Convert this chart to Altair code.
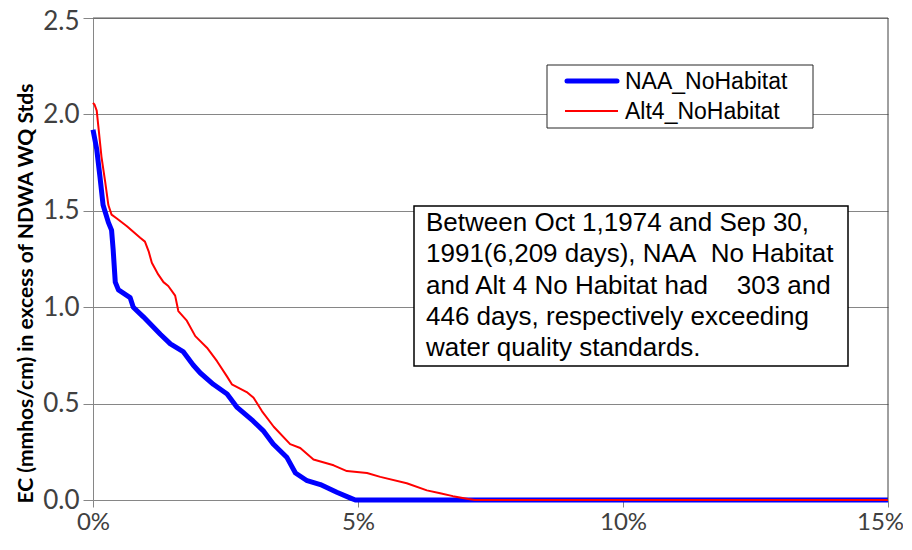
import altair as alt
import pandas as pd

# ---- data ----
series_names = ["NAA_NoHabitat", "Alt4_NoHabitat"]

naa_x = [0.0, 0.07, 0.13, 0.19, 0.29, 0.35, 0.38, 0.42, 0.48, 0.70, 0.76, 0.95, 1.27, 1.46, 1.70,
         1.89, 2.02, 2.27, 2.53, 2.72, 3.02, 3.21, 3.40, 3.66, 3.82, 4.04, 4.29, 4.60, 4.86, 4.95, 15.0]
naa_y = [1.92, 1.82, 1.68, 1.53, 1.44, 1.40, 1.30, 1.13, 1.09, 1.05, 1.00, 0.95, 0.86, 0.81, 0.77,
         0.70, 0.66, 0.60, 0.55, 0.48, 0.41, 0.36, 0.29, 0.22, 0.14, 0.10, 0.08, 0.04, 0.01, 0.0, 0.0]

alt4_x = [0.0, 0.03, 0.07, 0.10, 0.16, 0.23, 0.29, 0.35, 0.45, 0.64, 0.89, 0.98, 1.05, 1.11, 1.23,
          1.33, 1.42, 1.55, 1.61, 1.77, 1.93, 2.15, 2.34, 2.53, 2.62, 2.90, 3.03, 3.19, 3.41, 3.72,
          3.91, 4.16, 4.54, 4.79, 5.17, 5.42, 5.92, 6.30, 6.55, 6.79, 7.08, 7.20, 15.0]
alt4_y = [2.06, 2.05, 2.02, 1.94, 1.78, 1.65, 1.53, 1.48, 1.46, 1.42, 1.36, 1.34, 1.29, 1.23, 1.17,
          1.13, 1.11, 1.06, 0.98, 0.93, 0.85, 0.79, 0.72, 0.64, 0.60, 0.56, 0.53, 0.46, 0.38, 0.29,
          0.27, 0.21, 0.18, 0.15, 0.14, 0.12, 0.087, 0.05, 0.035, 0.02, 0.005, 0.0, 0.0]

x_ticks = [0, 5, 10, 15]
y_ticks = [0.0, 0.5, 1.0, 1.5, 2.0, 2.5]

NB = "\u00a0"
note_lines = [
    "Between Oct 1,1974 and Sep 30,",
    "1991(6,209" + NB + "days), NAA" + NB + NB + "No Habitat",
    "and Alt 4 No Habitat had" + NB + NB + NB + NB + "303 and",
    "446 days, respectively exceeding",
    "water quality standards.",
]

# ---- build table ----
rows = []
for i, (x, y) in enumerate(zip(naa_x, naa_y)):
    rows.append({"series": series_names[0], "order": i, "pct": x, "ec": y})
for i, (x, y) in enumerate(zip(alt4_x, alt4_y)):
    rows.append({"series": series_names[1], "order": i, "pct": x, "ec": y})
df = pd.DataFrame(rows)

# plot area: left 93, top 18, right 888, bottom 500 (page pixels)
OX, OY = 93, 18
W, H = 795, 482
GRID = "#868686"

def rx(px):
    return px - OX

def ry(py):
    return py - OY

x_enc = alt.X("pct:Q", scale=alt.Scale(domain=[0, 15], nice=False, zero=True),
              axis=alt.Axis(values=x_ticks, labelExpr="datum.value + '%'", grid=False,
                            tickSize=7, tickColor=GRID, domainColor=GRID,
                            labelFont="Lato", labelFontSize=24, labelColor="#404040",
                            labelPadding=3, labelFlush=False, labelOverlap=False,
                            labelOffset={"condition": {"test": "datum.value == 15", "value": -8},
                                         "value": 0},
                            title=None))
y_enc = alt.Y("ec:Q", scale=alt.Scale(domain=[0, 2.5], nice=False),
              axis=alt.Axis(values=y_ticks, format=".1f", grid=True, gridColor=GRID,
                            tickSize=10, tickColor=GRID, domainColor=GRID,
                            labelFont="Lato", labelFontSize=26, labelColor="#404040",
                            labelPadding=4,
                            labelOffset={"condition": {"test": "datum.value == 2.5", "value": 3},
                                         "value": 0},
                            title="EC (mmhos/cm) in excess of NDWA WQ Stds",
                            titleFont="Lato", titleFontWeight="bold", titleFontSize=21,
                            titleColor="#000000", titleAngle=270, titleX=rx(26), titleY=ry(293),
                            titleAlign="center", titleBaseline="middle"))

base = alt.Chart(df)

blue = base.transform_filter(alt.datum.series == series_names[0]).mark_line(
    color="#0000FF", strokeWidth=5, strokeJoin="round"
).encode(x=x_enc, y=y_enc, order="order:Q")

red = base.transform_filter(alt.datum.series == series_names[1]).mark_line(
    color="#FF0000", strokeWidth=2, strokeJoin="round"
).encode(x="pct:Q", y="ec:Q", order="order:Q")

one = alt.Data(values=[{"k": 1}])

top_edge = alt.Chart(one).mark_rule(color="#595959", strokeWidth=1).encode(
    x=alt.value(0), x2=alt.value(W), y=alt.value(0))
right_edge = alt.Chart(one).mark_rule(color="#404040", strokeWidth=1).encode(
    x=alt.value(W), y=alt.value(0), y2=alt.value(H))

# legend box
leg_box = alt.Chart(one).mark_rect(fill="white", stroke="#262626", strokeWidth=1).encode(
    x=alt.value(rx(547)), x2=alt.value(rx(813)), y=alt.value(ry(65)), y2=alt.value(ry(128)))
leg_blue = alt.Chart(one).mark_rule(color="#0000FF", strokeWidth=5, strokeCap="round").encode(
    x=alt.value(rx(567)), x2=alt.value(rx(617)), y=alt.value(ry(81)))
leg_red = alt.Chart(one).mark_rule(color="#FF0000", strokeWidth=2).encode(
    x=alt.value(rx(565)), x2=alt.value(rx(618)), y=alt.value(ry(111)))
leg_t1 = alt.Chart(one).mark_text(align="left", baseline="middle", font="Liberation Sans",
                                  fontSize=23, color="#000000").encode(
    x=alt.value(rx(625)), y=alt.value(ry(82)), text=alt.value(series_names[0]))
leg_t2 = alt.Chart(one).mark_text(align="left", baseline="middle", font="Liberation Sans",
                                  fontSize=23, color="#000000").encode(
    x=alt.value(rx(625)), y=alt.value(ry(112)), text=alt.value(series_names[1]))

# note box
note_box = alt.Chart(one).mark_rect(fill="white", stroke="#000000", strokeWidth=1.5).encode(
    x=alt.value(rx(414)), x2=alt.value(rx(848)), y=alt.value(ry(206)), y2=alt.value(ry(366)))
note_text = alt.Chart(one).mark_text(align="left", baseline="middle", font="Liberation Sans",
                                     fontSize=26, lineHeight=31.3, color="#000000").encode(
    x=alt.value(rx(426)), y=alt.value(ry(223)), text=alt.value(note_lines))

chart = alt.layer(
    blue, red, top_edge, right_edge,
    leg_box, leg_blue, leg_red, leg_t1, leg_t2,
    note_box, note_text
).properties(
    width=W, height=H,
    autosize=alt.AutoSizeParams(type="none"),
    padding={"left": 85, "top": 10, "right": 15, "bottom": 40},
).configure(background="white").configure_view(stroke=None)

chart.save("out.html", embed_options={"renderer": "svg", "actions": False})
